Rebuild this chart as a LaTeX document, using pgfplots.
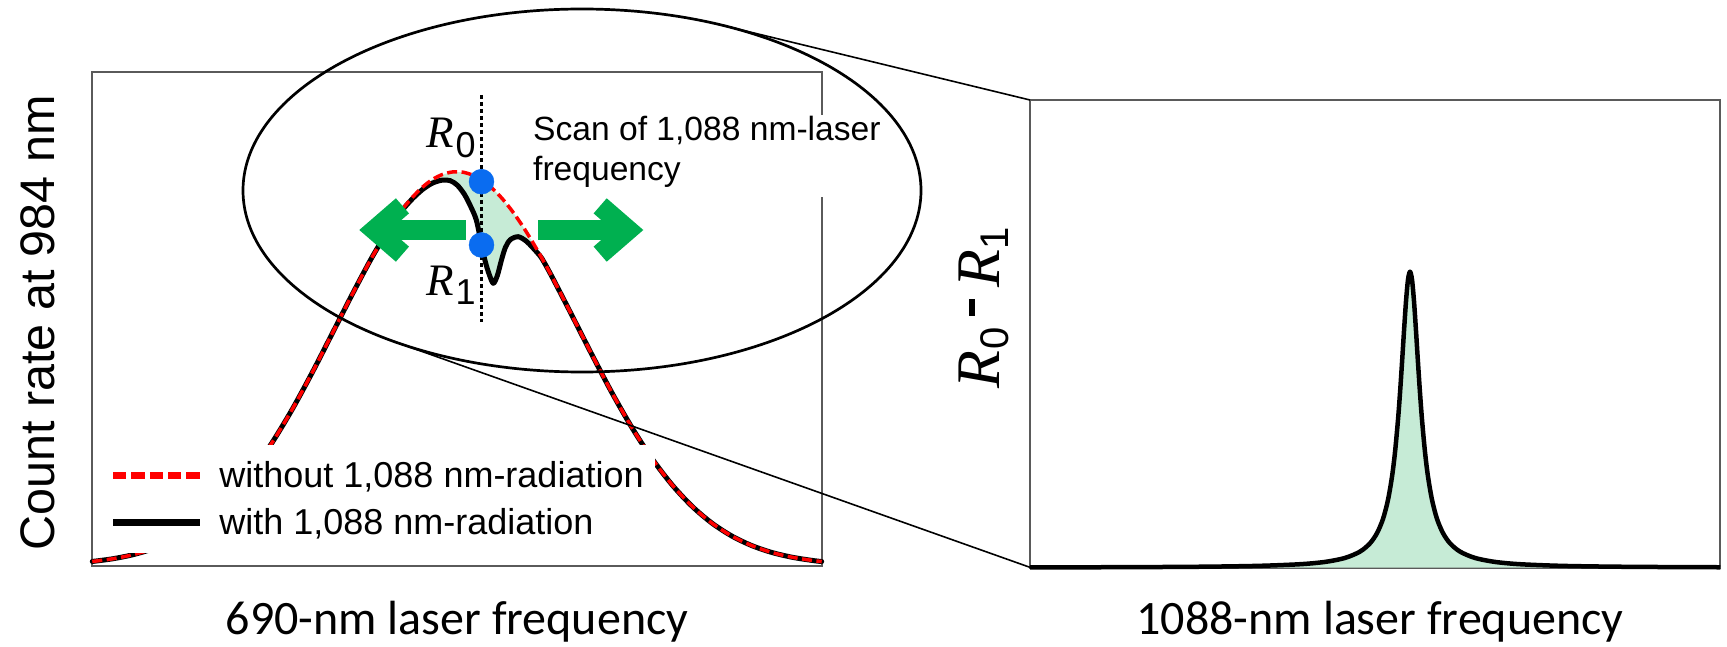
\documentclass[border=0pt]{standalone}
\usepackage{fontspec}
\setmainfont{Liberation Sans}
\newfontfamily\tnr{Liberation Serif}
\newfontfamily\calib{Carlito}
\usepackage{pgfplots}
\usepackage{pgfplotstable}
\pgfplotsset{compat=1.18}
\definecolor{boxgray}{HTML}{5A5A5A}
\definecolor{mint}{HTML}{C6EBD6}
\definecolor{arrowgreen}{HTML}{00B050}
\definecolor{dotblue}{HTML}{0A6CF0}
\definecolor{dred}{HTML}{FF0000}

\pgfplotsset{
  blackleg/.style={legend image code/.code={\draw[##1, line width=6.5pt, line cap=butt] (0pt,0pt) -- (86.6pt,0pt);}},
  redleg/.style={legend image code/.code={\draw[##1, line width=6.5pt, dash pattern=on 13.3pt off 5pt] (0pt,0pt) -- (86.6pt,0pt);}},
}

\pgfplotstableread{
x y
0 4.23
20 6.86
40 10.83
60 16.65
80 24.89
100 36.20
120 51.22
140 70.56
160 94.60
180 123.4
200 156.5
220 193.3
240 232.3
260 271.5
280 308.9
300 342.0
310 356.2
320 368.3
330 378.4
340 386.1
350 391.2
360 393.7
370 393.6
380 390.7
390 385.3
400 377.3
410 367.0
420 354.5
430 340.1
440 324.1
450 306.8
460 288.4
480 249.6
500 210.3
520 172.3
540 137.5
560 106.7
580 80.6
600 59.2
620 42.3
640 29.4
660 19.9
680 13.1
700 8.42
720 5.25
729.4 4.16
}\redtab

\pgfplotstableread{
x y
0 4.23
20 6.86
40 10.83
60 16.65
80 24.89
100 36.20
120 51.22
140 70.56
160 94.60
180 123.4
200 156.5
220 193.3
240 232.3
260 271.5
280 308.9
300 342.0
310 355.6
320 366.8
330 376.0
340 382.5
350 385.6
358 385.0
365 380.5
372 371.5
378 360.0
384 345.7
389 322.0
393 304.0
397 291.0
401 282.4
405 290.0
409 305.0
413 318.0
418 326.0
426 329.0
434 324.5
440 318.5
445 313.0
450 306.5
460 288.4
480 249.6
500 210.3
520 172.3
540 137.5
560 106.7
580 80.6
600 59.2
620 42.3
640 29.4
660 19.9
680 13.1
700 8.42
720 5.25
729.4 4.16
}\blacktab

\pgfplotstableread{
x y
0 0.30
60 0.42
120 0.63
180 1.06
230 1.88
270 3.48
295 5.78
315 9.76
330 16.1
340 24.4
347 34.6
353 48.8
358 67.9
362 91.1
365 115.5
368 148.0
370 174.7
372 204.9
374 236.8
376 266.4
378 288.0
380 296.0
382 288.0
384 266.4
386 236.8
388 204.9
390 174.7
392 148.0
395 115.5
398 91.1
402 67.9
407 48.8
413 34.6
420 24.4
430 16.1
445 9.76
465 5.78
490 3.48
530 1.88
580 1.06
640 0.63
690.4 0.44
}\lortab

\begin{document}
\begin{tikzpicture}

% ---------------- left panel ----------------
\begin{axis}[
  at={(92.3pt,80.3pt)}, anchor=south west,
  scale only axis, width=729.4pt, height=494pt,
  xmin=0, xmax=729.4, ymin=0, ymax=494,
  xtick=\empty, ytick=\empty,
  axis line style={draw=boxgray, line width=2pt},
  clip=false,
  reverse legend,
  legend cell align=left,
  legend style={at={(axis cs:8,121)}, anchor=north west, draw=none, fill=white,
    inner xsep=9.4pt, inner ysep=15pt, row sep=15pt, column sep=14.4pt,
    font=\fontsize{36}{43}\selectfont,
    nodes={inner sep=2pt},
    column 2/.style={nodes={text height=0.72em, text depth=0pt}}},
]
% green area between the two curves (R0 - R1 signal)
\addplot[fill=mint, draw=none, forget plot] coordinates {
 (300,342.0) (310,356.2) (320,368.3) (330,378.4) (340,386.1) (350,391.2) (360,393.7)
 (370,393.6) (380,390.7) (390,385.3) (400,377.3) (410,367.0) (420,354.5) (430,340.1)
 (440,324.1) (450,306.8) (450,306.5) (445,313.0) (440,318.5) (434,324.5) (426,329.0)
 (418,326.0) (413,318.0) (409,305.0) (405,290.0) (401,282.4) (397,291.0) (393,304.0)
 (389,322.0) (384,345.7) (378,360.0) (372,371.5) (365,380.5) (358,385.0) (350,385.6)
 (340,382.5) (330,376.0) (320,366.8) (310,355.6) (300,342.0)} -- cycle;

\addplot[black, line width=5pt, smooth, line join=round, line cap=round, blackleg]
  table {\blacktab};
\addlegendentry{with 1,088 nm-radiation}
\addplot[dred, line width=3.5pt, smooth, dash pattern=on 10pt off 4.5pt, redleg]
  table {\redtab};
\addlegendentry{without 1,088 nm-radiation}

\draw[black, line width=2.2pt, dash pattern=on 4pt off 3pt] (axis cs:389.2,470.7) -- (axis cs:389.2,243.7);
\addplot[only marks, mark=*, mark size=12.5pt, dotblue, mark options={solid, draw=none, fill=dotblue}, forget plot]
  coordinates {(389.2,384) (389.2,320.7)};
\end{axis}

% ---------------- right panel ----------------
\begin{axis}[
  at={(1030pt,78.3pt)}, anchor=south west,
  scale only axis, width=690.4pt, height=467.7pt,
  xmin=0, xmax=690.4, ymin=0, ymax=467.7,
  xtick=\empty, ytick=\empty,
  axis line style={draw=boxgray, line width=2pt},
  clip=false,
]
\addplot[fill=mint, draw=none, smooth] table {\lortab} \closedcycle;
\addplot[black, line width=4.5pt, smooth, line join=round] table {\lortab};
\end{axis}

% ---------------- annotations (pixel coordinates, y downwards) ----------------
\begin{scope}[x=1pt, y=-1pt, shift={(0pt,646pt)}]
  \fill[white] (814,115) rectangle (829,196.7);
  \node[anchor=base west, inner sep=0pt, font=\fontsize{33.6}{40}\selectfont] at (533,141) {Scan of 1,088 nm-laser};
  \node[anchor=base west, inner sep=0pt, font=\fontsize{33.6}{40}\selectfont] at (533,181) {frequency};

  \draw[line width=2.7pt] (582,190.5) ellipse [x radius=339, y radius=181.5];
  \draw[line width=1.6pt] (720.6,24.9) -- (1030,100);
  \draw[line width=1.6pt] (392.3,340.9) -- (1031,567.7);

  % green arrows
  \fill[arrowgreen] (538.3,220) rectangle (615,240);
  \fill[arrowgreen] (643.3,230) -- (606.7,198.3) -- (593.6,213.4) -- (612.7,230) -- (593.6,246.6) -- (606.7,261.7) -- cycle;
  \fill[arrowgreen] (389,220) rectangle (465.7,240);
  \fill[arrowgreen] (359.3,230) -- (395.9,198.3) -- (409,213.4) -- (389.9,230) -- (409,246.6) -- (395.9,261.7) -- cycle;

  % R labels
  \node[anchor=base west, inner sep=0pt] at (426,148)
    {\fontsize{45}{45}\selectfont\tnr\itshape R\kern2pt\raisebox{-10pt}{\normalfont\fontsize{36}{36}\selectfont 0}};
  \node[anchor=base west, inner sep=0pt] at (426,296)
    {\fontsize{45}{45}\selectfont\tnr\itshape R\kern2pt\raisebox{-9pt}{\normalfont\fontsize{36}{36}\selectfont 1}};
  \node[rotate=90, inner sep=0pt] at (984,307.5)
    {\fontsize{62}{62}\selectfont\tnr\itshape R\kern1pt\raisebox{-9pt}{\normalfont\fontsize{40}{40}\selectfont 0}\kern11pt\rule[25pt]{17pt}{6pt}\kern11pt R\kern1pt\raisebox{-9pt}{\normalfont\fontsize{40}{40}\selectfont 1}};

  % axis titles
  \node[rotate=90, inner sep=0pt, font=\fontsize{48.5}{50}\selectfont] at (38,323) {Count rate at 984 nm};
  \node[anchor=base, inner sep=0pt, font=\calib\fontsize{48}{50}\selectfont] at (457,634) {690-nm laser frequency};
  \node[anchor=base, inner sep=0pt, font=\calib\fontsize{48}{50}\selectfont] at (1380,634) {1088-nm laser frequency};
\end{scope}

\pgfresetboundingbox
\path (0pt,0pt) rectangle (1727pt,646pt);
\end{tikzpicture}
\end{document}
